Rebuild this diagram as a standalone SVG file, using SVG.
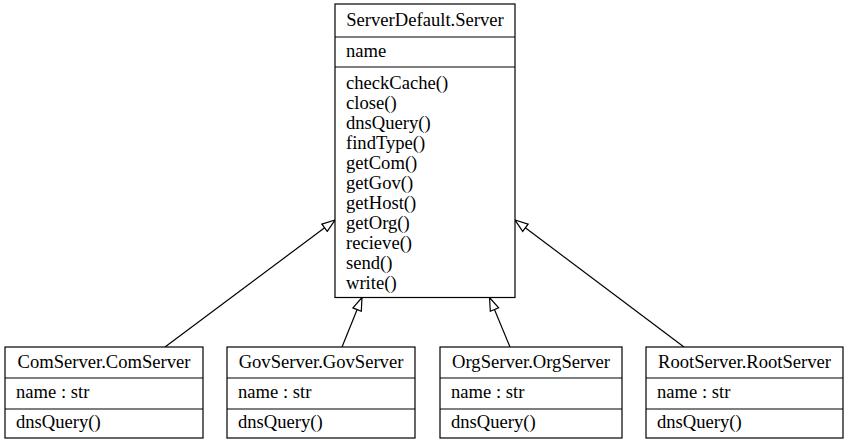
<svg xmlns="http://www.w3.org/2000/svg" width="849" height="445" viewBox="0 0 849 445">
  <style>
    .box { fill: #ffffff; stroke: #000000; stroke-width: 1.2; }
    .sep { stroke: #000000; stroke-width: 1.2; }
    .edge { fill: none; stroke: #000000; stroke-width: 1.2; marker-end: url(#inherit); }
    text { font-family: "Liberation Serif", "Times New Roman", serif; font-size: 18.6px; fill: #000000; }
    .title { text-anchor: middle; }
  </style>
  <defs>
    <!-- hollow triangle for generalisation arrows -->
    <marker id="inherit" markerUnits="userSpaceOnUse" viewBox="-1 -1 15 11" markerWidth="15" markerHeight="11" refX="13" refY="4.5" orient="auto">
      <path d="M0,0 L13,4.5 L0,9 Z" fill="#ffffff" stroke="#000000" stroke-width="1.2"/>
    </marker>
  </defs>

  <rect width="849" height="445" fill="#ffffff"/>

  <g id="edges">
    <path class="edge" d="M165,347 L335,220"/>
    <path class="edge" d="M342,347 L362,297.5"/>
    <path class="edge" d="M510,347 L489.5,297.5"/>
    <path class="edge" d="M684,347 L515,220"/>
  </g>

  <g id="ServerDefault.Server">
    <rect class="box" x="335" y="4" width="180" height="293.5"/>
    <line class="sep" x1="335" y1="37" x2="515" y2="37"/>
    <line class="sep" x1="335" y1="67" x2="515" y2="67"/>
    <text class="title" x="425" y="26">ServerDefault.Server</text>
    <text x="346" y="57">name</text>
    <text x="346" y="89">checkCache()</text>
    <text x="346" y="109">close()</text>
    <text x="346" y="129">dnsQuery()</text>
    <text x="346" y="149">findType()</text>
    <text x="346" y="169">getCom()</text>
    <text x="346" y="189">getGov()</text>
    <text x="346" y="209">getHost()</text>
    <text x="346" y="229">getOrg()</text>
    <text x="346" y="249">recieve()</text>
    <text x="346" y="269">send()</text>
    <text x="346" y="289">write()</text>
  </g>

  <g id="ComServer.ComServer">
    <rect class="box" x="5" y="347" width="198" height="91"/>
    <line class="sep" x1="5" y1="378" x2="203" y2="378"/>
    <line class="sep" x1="5" y1="409" x2="203" y2="409"/>
    <text class="title" x="104" y="368">ComServer.ComServer</text>
    <text x="16" y="398">name : str</text>
    <text x="16" y="428">dnsQuery()</text>
  </g>

  <g id="GovServer.GovServer">
    <rect class="box" x="227" y="347" width="188" height="91"/>
    <line class="sep" x1="227" y1="378" x2="415" y2="378"/>
    <line class="sep" x1="227" y1="409" x2="415" y2="409"/>
    <text class="title" x="321" y="368">GovServer.GovServer</text>
    <text x="238" y="398">name : str</text>
    <text x="238" y="428">dnsQuery()</text>
  </g>

  <g id="OrgServer.OrgServer">
    <rect class="box" x="440" y="347" width="182" height="91"/>
    <line class="sep" x1="440" y1="378" x2="622" y2="378"/>
    <line class="sep" x1="440" y1="409" x2="622" y2="409"/>
    <text class="title" x="531" y="368">OrgServer.OrgServer</text>
    <text x="451" y="398">name : str</text>
    <text x="451" y="428">dnsQuery()</text>
  </g>

  <g id="RootServer.RootServer">
    <rect class="box" x="646" y="347" width="197" height="91"/>
    <line class="sep" x1="646" y1="378" x2="843" y2="378"/>
    <line class="sep" x1="646" y1="409" x2="843" y2="409"/>
    <text class="title" x="744.5" y="368">RootServer.RootServer</text>
    <text x="657" y="398">name : str</text>
    <text x="657" y="428">dnsQuery()</text>
  </g>
</svg>
